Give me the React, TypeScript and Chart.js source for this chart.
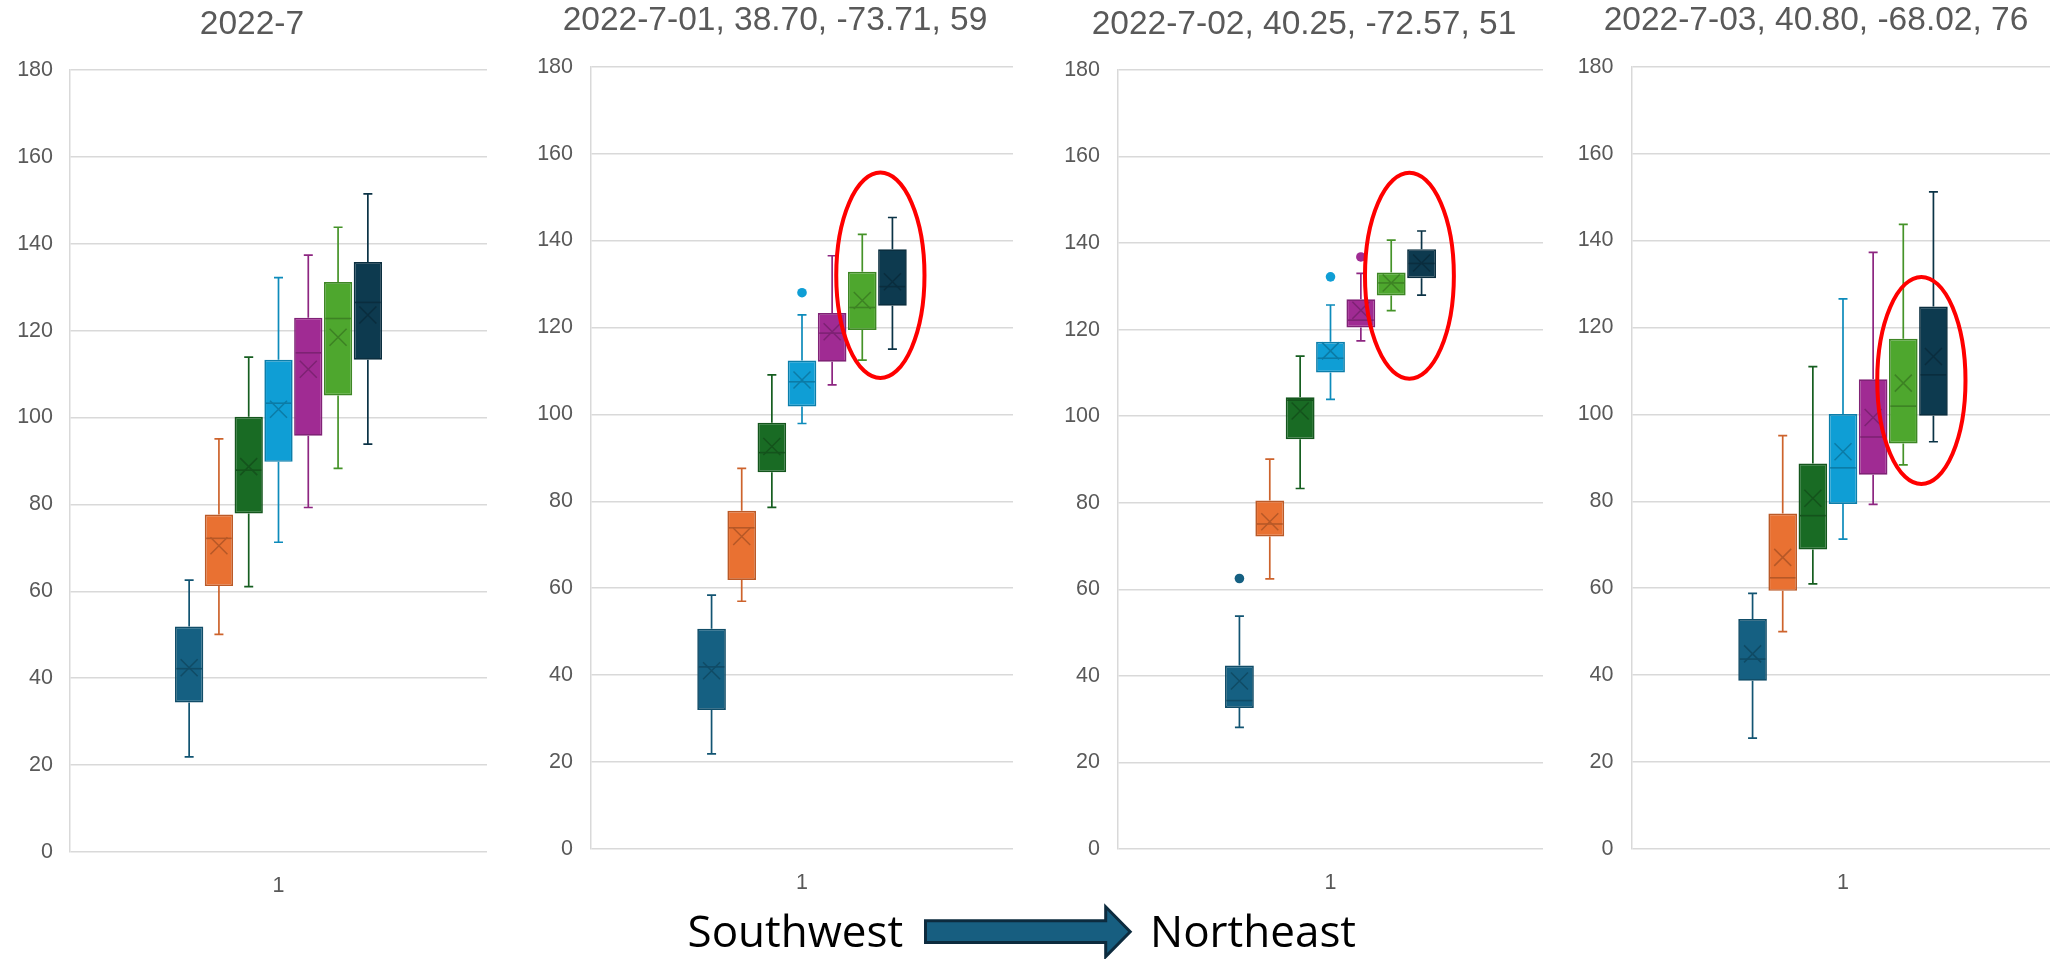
import React, { useEffect, useRef } from 'react';
import { Chart, registerables } from 'chart.js';

Chart.register(...registerables);

// ---------- data ----------
const CATEGORIES = ['1'];
const SERIES_LABELS = ['Series 1', 'Series 2', 'Series 3', 'Series 4', 'Series 5', 'Series 6', 'Series 7'];
const SERIES_COLORS = ['#156082', '#E97132', '#196B24', '#0F9ED5', '#A02B93', '#4EA72E', '#0D3A4F'];
const PANEL_TITLES = ['2022-7', '2022-7-01, 38.70, -73.71, 59', '2022-7-02, 40.25, -72.57, 51', '2022-7-03, 40.80, -68.02, 76'];
const Y_MIN = 0;
const Y_MAX = 180;
const Y_STEP = 20;

// Panel 1: 2022-7
const P1_MIN = [21.9, 50.1, 61.1, 71.3, 79.3, 88.3, 93.9];
const P1_Q1 = [34.4, 61.2, 77.9, 89.8, 95.8, 105.1, 113.3];
const P1_MEDIAN = [42.2, 72.2, 87.9, 103.3, 114.9, 122.8, 126.5];
const P1_Q3 = [51.9, 77.7, 100.2, 113.3, 123.0, 131.2, 135.8];
const P1_MAX = [62.6, 95.1, 113.9, 132.2, 137.4, 143.8, 151.5];
const P1_MEAN = [42.4, 70.5, 88.7, 101.9, 111.1, 118.5, 123.6];
const P1_OUTLIERS: number[][] = [[], [], [], [], [], [], []];

// Panel 2: 2022-7-01
const P2_MIN = [21.9, 57.0, 78.6, 97.9, 106.8, 112.5, 115.0];
const P2_Q1 = [32.0, 61.9, 86.7, 101.8, 112.1, 119.4, 125.0];
const P2_MEDIAN = [41.9, 73.9, 91.2, 107.5, 118.7, 124.6, 129.4];
const P2_Q3 = [50.7, 77.8, 98.1, 112.4, 123.3, 132.8, 138.0];
const P2_MAX = [58.4, 87.6, 109.1, 122.9, 136.5, 141.4, 145.3];
const P2_MEAN = [41.0, 71.9, 92.6, 107.9, 119.0, 126.2, 130.5];
const P2_OUTLIERS: number[][] = [[], [], [], [128.0], [], [], []];

// Panel 3: 2022-7-02
const P3_MIN = [28.1, 62.4, 83.3, 103.9, 117.4, 124.4, 128.0];
const P3_Q1 = [32.6, 72.2, 94.7, 110.1, 120.5, 127.9, 131.9];
const P3_MEDIAN = [34.3, 75.1, 103.7, 113.4, 122.2, 130.8, 135.3];
const P3_Q3 = [42.4, 80.5, 104.4, 117.2, 127.0, 133.2, 138.6];
const P3_MAX = [53.8, 90.1, 113.9, 125.7, 133.0, 140.7, 142.8];
const P3_MEAN = [38.8, 75.6, 101.2, 115.1, 124.5, 130.8, 135.4];
const P3_OUTLIERS: number[][] = [[62.5], [], [], [132.2], [136.8], [], []];

// Panel 4: 2022-7-03
const P4_MIN = [25.5, 50.0, 61.0, 71.3, 79.3, 88.4, 93.7];
const P4_Q1 = [38.7, 59.4, 68.9, 79.4, 86.1, 93.3, 99.7];
const P4_MEDIAN = [43.7, 62.4, 76.7, 87.7, 94.8, 101.9, 109.1];
const P4_Q3 = [52.9, 77.2, 88.7, 100.1, 108.1, 117.4, 124.8];
const P4_MAX = [58.8, 95.1, 111.0, 126.6, 137.3, 143.7, 151.2];
const P4_MEAN = [44.9, 67.1, 80.7, 91.4, 99.3, 107.2, 113.3];
const P4_OUTLIERS: number[][] = [[], [], [], [], [], [], []];

// Highlight ellipses (value range, between series 6 and 7)
const HIGHLIGHT_PAIR = [5, 6];
const HIGHLIGHT_RANGES: (number[] | null)[] = [null, [107.9, 156.1], [108.2, 156.7], [83.5, 132.1]];

const PANEL_STATS = [
  { min: P1_MIN, q1: P1_Q1, median: P1_MEDIAN, q3: P1_Q3, max: P1_MAX, mean: P1_MEAN, outliers: P1_OUTLIERS },
  { min: P2_MIN, q1: P2_Q1, median: P2_MEDIAN, q3: P2_Q3, max: P2_MAX, mean: P2_MEAN, outliers: P2_OUTLIERS },
  { min: P3_MIN, q1: P3_Q1, median: P3_MEDIAN, q3: P3_Q3, max: P3_MAX, mean: P3_MEAN, outliers: P3_OUTLIERS },
  { min: P4_MIN, q1: P4_Q1, median: P4_MEDIAN, q3: P4_Q3, max: P4_MAX, mean: P4_MEAN, outliers: P4_OUTLIERS },
];

// ---------- layout / style ----------
const PANEL_LAYOUT = [
  { left: 0, width: 487, padLeft: 17, axisWidth: 53, tickPad: 17, titleTop: 4.4, titleBottom: 25.4, xAxisHeight: 107 },
  { left: 520, width: 493, padLeft: 17, axisWidth: 54, tickPad: 18, titleTop: 0.7, titleBottom: 25.8, xAxisHeight: 110 },
  { left: 1048, width: 495, padLeft: 17, axisWidth: 53, tickPad: 18, titleTop: 4.4, titleBottom: 25.4, xAxisHeight: 110 },
  { left: 1561, width: 493, padLeft: 17, axisWidth: 54, tickPad: 18.5, titleTop: 0.7, titleBottom: 25.8, xAxisHeight: 110 },
];

const FONT = '"Liberation Sans", Arial, sans-serif';
const TEXT_COLOR = '#595959';
const GRID_COLOR = '#d9d9d9';

function shade(hex: string, f: number): string {
  const n = parseInt(hex.slice(1), 16);
  const r = Math.round(((n >> 16) & 255) * f);
  const g = Math.round(((n >> 8) & 255) * f);
  const b = Math.round((n & 255) * f);
  return `rgb(${r},${g},${b})`;
}

type Stats = typeof PANEL_STATS[number];

function makeDecorPlugin(stats: Stats, highlight: number[] | null) {
  return {
    id: 'boxDecor',
    beforeDatasetsDraw(chart: any) {
      const ctx = chart.ctx as CanvasRenderingContext2D;
      const yScale = chart.scales.y;
      ctx.save();
      chart.data.datasets.forEach((_ds: any, i: number) => {
        const el: any = chart.getDatasetMeta(i).data[0];
        if (!el) return;
        const x = el.x;
        const cap = 4.5;
        const yMin = yScale.getPixelForValue(stats.min[i]);
        const yMax = yScale.getPixelForValue(stats.max[i]);
        const yQ1 = yScale.getPixelForValue(stats.q1[i]);
        const yQ3 = yScale.getPixelForValue(stats.q3[i]);
        ctx.strokeStyle = shade(SERIES_COLORS[i], 0.88);
        ctx.lineWidth = 1.7;
        ctx.beginPath();
        ctx.moveTo(x, yQ3);
        ctx.lineTo(x, yMax);
        ctx.moveTo(x - cap, yMax);
        ctx.lineTo(x + cap, yMax);
        ctx.moveTo(x, yQ1);
        ctx.lineTo(x, yMin);
        ctx.moveTo(x - cap, yMin);
        ctx.lineTo(x + cap, yMin);
        ctx.stroke();
      });
      ctx.restore();
    },
    afterDatasetsDraw(chart: any) {
      const ctx = chart.ctx as CanvasRenderingContext2D;
      const yScale = chart.scales.y;
      ctx.save();
      chart.data.datasets.forEach((_ds: any, i: number) => {
        const el: any = chart.getDatasetMeta(i).data[0];
        if (!el) return;
        const x = el.x;
        const w = el.width;
        const dark = shade(SERIES_COLORS[i], 0.78);
        // median
        const yMed = yScale.getPixelForValue(stats.median[i]);
        ctx.strokeStyle = dark;
        ctx.lineWidth = 1.6;
        ctx.beginPath();
        ctx.moveTo(x - w / 2 + 1.5, yMed);
        ctx.lineTo(x + w / 2 - 1.5, yMed);
        ctx.stroke();
        // mean X
        const yMean = yScale.getPixelForValue(stats.mean[i]);
        const s = 8.5;
        ctx.lineWidth = 1.5;
        ctx.beginPath();
        ctx.moveTo(x - s, yMean - s);
        ctx.lineTo(x + s, yMean + s);
        ctx.moveTo(x + s, yMean - s);
        ctx.lineTo(x - s, yMean + s);
        ctx.stroke();
        // outliers
        stats.outliers[i].forEach((v) => {
          const yo = yScale.getPixelForValue(v);
          ctx.fillStyle = SERIES_COLORS[i];
          ctx.beginPath();
          ctx.arc(x, yo, 4.8, 0, Math.PI * 2);
          ctx.fill();
        });
      });
      // highlight ellipse
      if (highlight) {
        const a: any = chart.getDatasetMeta(HIGHLIGHT_PAIR[0]).data[0];
        const b: any = chart.getDatasetMeta(HIGHLIGHT_PAIR[1]).data[0];
        if (a && b) {
          const pitch = b.x - a.x;
          const cx = (a.x + b.x) / 2 + pitch * 0.1;
          const yTop = yScale.getPixelForValue(highlight[1]);
          const yBot = yScale.getPixelForValue(highlight[0]);
          const cy = (yTop + yBot) / 2;
          const ry = (yBot - yTop) / 2 - 2;
          const rx = pitch * 1.53 - 2;
          ctx.strokeStyle = '#FF0000';
          ctx.lineWidth = 4;
          ctx.beginPath();
          ctx.ellipse(cx, cy, rx, ry, 0, 0, Math.PI * 2);
          ctx.stroke();
        }
      }
      ctx.restore();
    },
  };
}

function BoxPanel({ index }: { index: number }) {
  const ref = useRef<HTMLCanvasElement | null>(null);
  const lay = PANEL_LAYOUT[index];
  useEffect(() => {
    if (!ref.current) return;
    const stats = PANEL_STATS[index];
    const chart = new Chart(ref.current, {
      type: 'bar',
      data: {
        labels: CATEGORIES,
        datasets: SERIES_COLORS.map((c, i) => ({
          label: SERIES_LABELS[i],
          data: [[stats.q1[i], stats.q3[i]]] as any,
          backgroundColor: c,
          borderColor: shade(c, 0.8),
          borderWidth: 1.7,
          borderSkipped: false as any,
          categoryPercentage: 0.5,
          barPercentage: 0.95,
        })),
      },
      options: {
        animation: false,
        responsive: false,
        devicePixelRatio: 1,
        events: [],
        layout: { padding: { left: lay.padLeft, right: 0, top: 0, bottom: 0 } },
        plugins: {
          legend: { display: false },
          tooltip: { enabled: false },
          title: {
            display: true,
            text: PANEL_TITLES[index],
            color: TEXT_COLOR,
            font: { family: FONT, size: 33.5, weight: 'normal', lineHeight: 1.2 },
            padding: { top: lay.titleTop, bottom: lay.titleBottom },
          },
        },
        scales: {
          x: {
            type: 'category',
            grid: { display: false },
            border: { display: false },
            ticks: { color: TEXT_COLOR, font: { family: FONT, size: 21.5 }, padding: 13, maxRotation: 0 },
            afterFit: (scale: any) => {
              scale.height = lay.xAxisHeight;
            },
          },
          y: {
            type: 'linear',
            min: Y_MIN,
            max: Y_MAX,
            ticks: { stepSize: Y_STEP, color: TEXT_COLOR, font: { family: FONT, size: 21.5 }, padding: lay.tickPad },
            grid: { color: GRID_COLOR, lineWidth: 1.5, drawTicks: false },
            border: { display: true, color: GRID_COLOR, width: 1.5 },
            afterFit: (scale: any) => {
              scale.width = lay.axisWidth;
            },
          },
        },
      } as any,
      plugins: [makeDecorPlugin(stats, HIGHLIGHT_RANGES[index]) as any],
    });
    return () => chart.destroy();
  }, [index]);
  return (
    <canvas
      ref={ref}
      width={lay.width}
      height={959}
      style={{ position: 'absolute', left: lay.left, top: 0, width: lay.width, height: 959 }}
    />
  );
}

export default function App() {
  return (
    <div
      style={{
        position: 'absolute',
        left: 0,
        top: 0,
        width: 2050,
        height: 959,
        overflow: 'hidden',
        background: '#ffffff',
      }}
    >
      {PANEL_TITLES.map((_t, i) => (
        <BoxPanel key={i} index={i} />
      ))}
      <svg
        width={2050}
        height={959}
        style={{ position: 'absolute', left: 0, top: 0, pointerEvents: 'none' }}
      >
        <text x={687.5} y={946.7} fontFamily='"Open Sans", sans-serif' fontSize={44} fill="#000000">
          Southwest
        </text>
        <polygon
          points="925.5,920.8 1105.7,920.8 1105.7,906.8 1130.2,931.7 1105.7,956.6 1105.7,942.5 925.5,942.5"
          fill="#175E80"
          stroke="#0D2B3E"
          strokeWidth={3}
          strokeLinejoin="miter"
        />
        <text x={1150} y={946.7} fontFamily='"Open Sans", sans-serif' fontSize={44} fill="#000000">
          Northeast
        </text>
      </svg>
    </div>
  );
}
